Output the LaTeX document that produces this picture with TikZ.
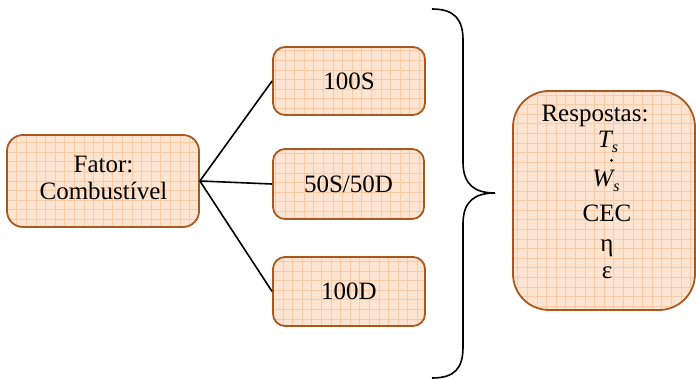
\documentclass[tikz,border=0pt]{standalone}
\usepackage{fontspec}
\setmainfont{Liberation Serif}
\begin{document}
\begin{tikzpicture}[x=1pt,y=-1pt,
  every node/.style={font=\fontsize{25}{29}\selectfont, inner sep=0pt},
  box/.style={draw=boxc, line width=1.8pt, fill=fillc, align=center,
    path picture={\draw[gridc,line width=0.6pt,step=9.6pt]
      ([shift={(-20pt,-20pt)}]path picture bounding box.south west) grid
      ([shift={(20pt,20pt)}]path picture bounding box.north east);}},
  link/.style={line width=1.6pt, black},
  txt/.style={anchor=base}]
\definecolor{boxc}{HTML}{A9581F}
\definecolor{fillc}{HTML}{FDE4D0}
\definecolor{gridc}{HTML}{F8CBA6}
\useasboundingbox (0,0) rectangle (696,379);
\node[box, rounded corners=16pt, minimum width=192pt, minimum height=92pt] (fator) at (103,181) {};
\node[txt] (t1) at (103.5,173) {Fator:};
\node[txt] (t2) at (103.5,200) {Combustível};
\node[box, rounded corners=12pt, minimum width=152pt, minimum height=68pt] (s100) at (349,81) {100S};
\node[box, rounded corners=12pt, minimum width=151pt, minimum height=70pt] (s50) at (348.5,184) {50S/50D};
\node[box, rounded corners=12pt, minimum width=152pt, minimum height=69pt] (d100) at (349,291.5) {100D};
\node[box, rounded corners=36pt, minimum width=182pt, minimum height=219pt] (resp) at (604,200.5) {};
\coordinate (j) at (fator.east);
\draw[link] (j) -- (s100.west);
\draw[link] (j) -- (s50.west);
\draw[link] (j) -- (d100.west);
\node[txt] (r0) at (595,122) {Respostas:};
\node[txt] (r1) at (608,148) {\itshape T\raisebox{-5pt}{\fontsize{16}{16}\selectfont s}};
\node[txt] (r2) at (606,187) {\itshape W\raisebox{-5pt}{\fontsize{16}{16}\selectfont s}};
\fill ([shift={(5.5pt,10pt)}]r2.north) circle (1.5pt);
\node[txt] (r3) at (607,222) {CEC};
\node[txt] (r4) at (607,252) {η};
\node[txt] (r5) at (607,279) {ε};
\coordinate (bt) at (432,9);
\coordinate (bm) at (495,193);
\coordinate (bb) at (432,378);
\draw[line width=1.6pt] (bt) .. controls (455,9) and (463,20) .. (463,40)
  -- (463,162) .. controls (463,185) and (475,193) .. (bm)
  .. controls (475,193) and (463,201) .. (463,224)
  -- (463,347) .. controls (463,368) and (455,378) .. (bb);
\end{tikzpicture}
\end{document}
